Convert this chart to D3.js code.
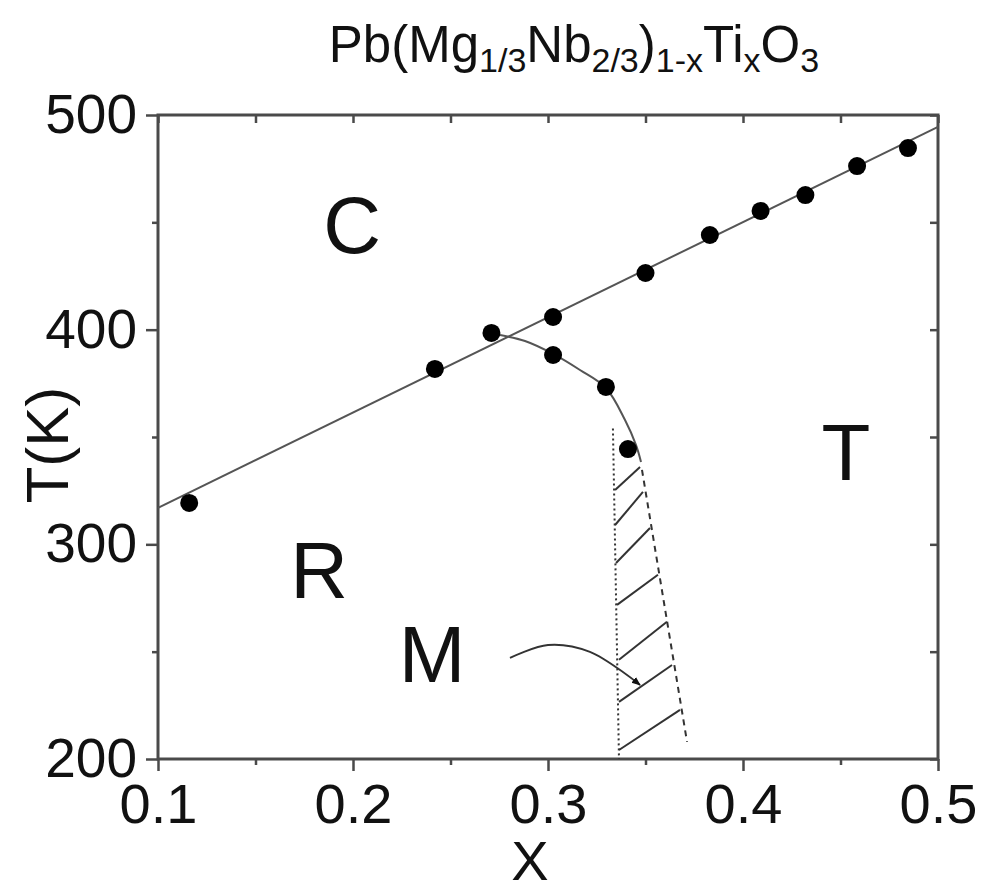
<!DOCTYPE html>
<html>
<head>
<meta charset="utf-8">
<script src="https://cdn.jsdelivr.net/npm/d3@7"></script>
<style>
    body { margin: 0; background: #fff; }
    svg text { font-family: "Liberation Sans", Arial, sans-serif; fill: #111; }
</style>
</head>
<body>
<svg id="chart" width="987" height="882"></svg>
<script>
// measured points on the cubic boundary (x, T in K)
var cubicX = [0.116, 0.242, 0.271, 0.3026, 0.350, 0.383, 0.409, 0.432, 0.4585, 0.4846];
var cubicT = [319.3, 381.7, 398.5, 405.9, 426.4, 444.1, 455.3, 462.7, 476.2, 484.6];

// measured points on the rhombohedral / tetragonal boundary
var rhomboX = [0.3026, 0.3297, 0.341];
var rhomboT = [388.2, 373.3, 344.4];

// guide lines drawn by hand on the figure
var fitX = [0.1, 0.5];
var fitT = [317, 494.5];
var bendX = [0.2754, 0.2882, 0.3026, 0.3164, 0.3297, 0.3395, 0.3451, 0.3477];
var bendT = [397.5, 394.7, 388.7, 381.2, 372.8, 357.9, 346.3, 338.4];
var dotX = [0.3333, 0.3364];
var dotT = [354, 200];
var dashX = [0.3482, 0.3713];
var dashT = [334.7, 208];

// hatching of the monoclinic region: left end -> right end
var hatchX1 = [0.3344, 0.3344, 0.3349, 0.3354, 0.3364, 0.3364, 0.3364];
var hatchT1 = [325.3, 309.0, 291.3, 271.8, 246.2, 226.6, 204.2];
var hatchX2 = [0.3472, 0.3487, 0.3523, 0.3564, 0.3610, 0.3636, 0.3677];
var hatchT2 = [336.0, 324.4, 307.6, 285.8, 263.9, 243.8, 222.9];

// arrow from the "M" label into the hatched area
var arrowX = [0.2805, 0.300, 0.3215, 0.3472];
var arrowT = [247.1, 253.1, 249.9, 234.5];

// phase labels
var phaseNames = ["C", "T", "R", "M"];
var phaseX = [0.1995, 0.4528, 0.1826, 0.2405];
var phaseT = [435.7, 330, 275, 235.9];

// axis ticks
var xTicks = [0.1, 0.2, 0.3, 0.4, 0.5];
var xMinor = [0.15, 0.25, 0.35, 0.45];
var yTicks = [200, 300, 400, 500];
var yMinor = [250, 350, 450];

const MARGIN = {top: 115, left: 158},
      WIDTH = 780,
      HEIGHT = 644;

var svg = d3.select("#chart"),
    g = svg.append("g")
           .attr("transform", "translate(" + MARGIN.left + "," + MARGIN.top + ")");

var xScale = d3.scaleLinear().domain([0.1, 0.5]).range([0, WIDTH]),
    yScale = d3.scaleLinear().domain([200, 500]).range([HEIGHT, 0]);

var axisColor = "#4a4a4a";

// helper to style an axis group
function styleAxis(sel, fontSize)
{
    sel.select(".domain").remove();
    sel.selectAll(".tick line").attr("stroke", axisColor).attr("stroke-width", 2.5);
    sel.selectAll(".tick text")
       .attr("font-size", fontSize)
       .attr("font-family", "Liberation Sans, Arial, sans-serif")
       .attr("fill", "#111");
}

// bottom axis, outward ticks
g.append("g")
   .attr("transform", "translate(0," + HEIGHT + ")")
   .call(d3.axisBottom(xScale).tickValues(xTicks).tickSize(12).tickPadding(12)
           .tickFormat(d3.format(".1f")))
   .call(styleAxis, 56);

g.append("g")
   .attr("transform", "translate(0," + HEIGHT + ")")
   .call(d3.axisBottom(xScale).tickValues(xMinor).tickSize(6).tickFormat(""))
   .call(styleAxis, 0);

// left axis, outward ticks
g.append("g")
   .call(d3.axisLeft(yScale).tickValues(yTicks).tickSize(12).tickPadding(9)
           .tickFormat(d3.format("d")))
   .call(styleAxis, 55);

g.append("g")
   .call(d3.axisLeft(yScale).tickValues(yMinor).tickSize(6).tickFormat(""))
   .call(styleAxis, 0);

// top axis, inward ticks
g.append("g")
   .call(d3.axisBottom(xScale).tickValues(xTicks.concat(xMinor)).tickSize(8).tickFormat(""))
   .call(styleAxis, 0);

// right axis, inward ticks
g.append("g")
   .attr("transform", "translate(" + WIDTH + ",0)")
   .call(d3.axisLeft(yScale).tickValues(yTicks.concat(yMinor)).tickSize(8).tickFormat(""))
   .call(styleAxis, 0);

// frame
g.append("rect")
   .attr("x", 0).attr("y", 0)
   .attr("width", WIDTH).attr("height", HEIGHT)
   .attr("fill", "none")
   .attr("stroke", axisColor)
   .attr("stroke-width", 3);

// line generator from two arrays
function pairs(xs, ts)
{
    return xs.map((d, i) => [xScale(d), yScale(ts[i])]);
}

var lineGen = d3.line();

// straight fit line through cubic boundary
g.append("path")
   .attr("d", lineGen(pairs(fitX, fitT)))
   .attr("fill", "none")
   .attr("stroke", "#555")
   .attr("stroke-width", 2);

// bending boundary
g.append("path")
   .attr("d", d3.line().curve(d3.curveCatmullRom)(pairs(bendX, bendT)))
   .attr("fill", "none")
   .attr("stroke", "#555")
   .attr("stroke-width", 2);

// dotted and dashed borders of the M region
g.append("path")
   .attr("d", lineGen(pairs(dotX, dotT)))
   .attr("stroke", "#333")
   .attr("stroke-width", 2)
   .attr("stroke-dasharray", "2,3");

g.append("path")
   .attr("d", lineGen(pairs(dashX, dashT)))
   .attr("stroke", "#333")
   .attr("stroke-width", 2)
   .attr("stroke-dasharray", "6,5");

// hatches
g.selectAll(".hatch")
   .data(hatchX1)
   .enter()
   .append("line")
   .attr("class", "hatch")
   .attr("x1", (d, i) => xScale(d))
   .attr("y1", (d, i) => yScale(hatchT1[i]))
   .attr("x2", (d, i) => xScale(hatchX2[i]))
   .attr("y2", (d, i) => yScale(hatchT2[i]))
   .attr("stroke", "#333")
   .attr("stroke-width", 2);

// arrow
svg.append("defs").append("marker")
   .attr("id", "head")
   .attr("viewBox", "0 0 10 10")
   .attr("refX", 9).attr("refY", 5)
   .attr("markerWidth", 5).attr("markerHeight", 5)
   .attr("orient", "auto")
   .append("path")
   .attr("d", "M0,1L10,5L0,9Z")
   .attr("fill", "#111");

g.append("path")
   .attr("d", d3.line().curve(d3.curveCatmullRom)(pairs(arrowX, arrowT)))
   .attr("fill", "none")
   .attr("stroke", "#333")
   .attr("stroke-width", 1.8)
   .attr("marker-end", "url(#head)");

// data points
g.selectAll(".dotC")
   .data(cubicX)
   .enter()
   .append("circle")
   .attr("class", "dotC")
   .attr("cx", d => xScale(d))
   .attr("cy", (d, i) => yScale(cubicT[i]))
   .attr("r", 9)
   .attr("fill", "#000");

g.selectAll(".dotR")
   .data(rhomboX)
   .enter()
   .append("circle")
   .attr("class", "dotR")
   .attr("cx", d => xScale(d))
   .attr("cy", (d, i) => yScale(rhomboT[i]))
   .attr("r", 9)
   .attr("fill", "#000");

// phase labels
g.selectAll(".phase")
   .data(phaseNames)
   .enter()
   .append("text")
   .attr("class", "phase")
   .attr("x", (d, i) => xScale(phaseX[i]))
   .attr("y", (d, i) => yScale(phaseT[i]))
   .attr("text-anchor", "middle")
   .attr("font-size", 80)
   .text(d => d);

// axis titles
svg.append("text")
   .attr("transform", "translate(68,445) rotate(-90)")
   .attr("text-anchor", "middle")
   .attr("font-size", 60)
   .text("T(K)");

svg.append("text")
   .attr("x", 530)
   .attr("y", 880)
   .attr("text-anchor", "middle")
   .attr("font-size", 56)
   .text("X");

// chemical formula title
var title = svg.append("text")
   .attr("x", 574)
   .attr("y", 62)
   .attr("text-anchor", "middle")
   .attr("font-size", 51);

var parts = [["Pb(Mg", 0], ["1/3", 1], ["Nb", 0], ["2/3", 1], [")", 0], ["1-x", 1],
             ["Ti", 0], ["x", 1], ["O", 0], ["3", 1]];

parts.forEach(p => {
    title.append("tspan")
         .attr("font-size", p[1] ? 34 : 51)
         .attr("baseline-shift", p[1] ? "-30%" : "0%")
         .text(p[0]);
});
</script>
</body>
</html>
